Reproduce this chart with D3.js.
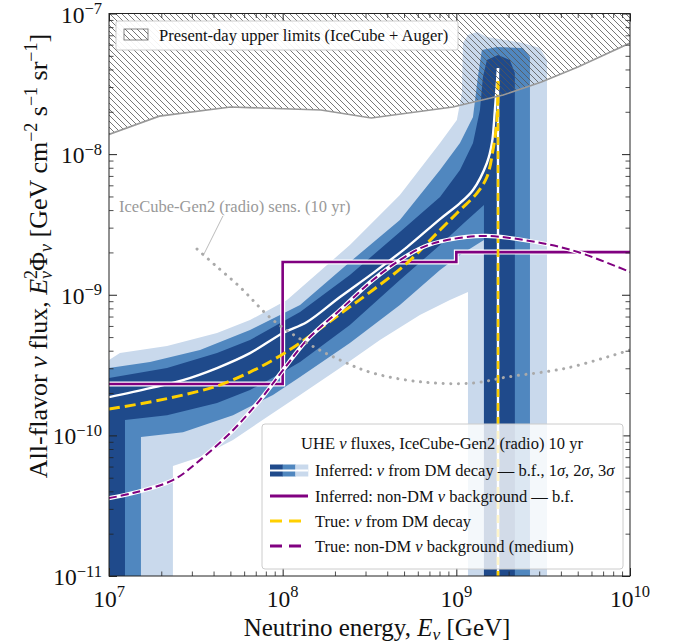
<!DOCTYPE html>
<html>
<head>
<meta charset="utf-8">
<script src="https://cdn.jsdelivr.net/npm/d3@7/dist/d3.min.js"></script>
<style>
html,body{margin:0;padding:0;background:#fff;}
svg{display:block;}
text{font-family:"Liberation Serif","Times New Roman",serif;fill:#111;}
</style>
</head>
<body>
<svg id="chart" width="677" height="643"></svg>
<script>
// ---------- data: log10(E / GeV) and log10(E^2 Phi / GeV cm^-2 s^-1 sr^-1) ----------
const energyDecades = [7, 8, 9, 10];
const fluxDecades = [-11, -10, -9, -8, -7];

// present-day upper limits (IceCube + Auger)
const limitLogE = [7.00, 7.29, 7.70, 8.22, 8.51, 8.98, 9.27, 9.49, 9.70, 10.00];
const limitLogF = [-7.86, -7.73, -7.665, -7.686, -7.743, -7.665, -7.58, -7.487, -7.381, -7.21];

// IceCube-Gen2 (radio) 10-yr sensitivity
const gen2LogE = [7.507, 7.61, 7.754, 7.944, 8.14, 8.33, 8.52, 8.808, 9.096, 9.291, 9.637, 10.0];
const gen2LogF = [-8.675, -8.789, -8.945, -9.18, -9.343, -9.464, -9.557, -9.621, -9.628, -9.585, -9.521, -9.393];
const gen2PointerLogE = [7.656, 7.541];
const gen2PointerLogF = [-8.44, -8.725];

// inferred DM-decay flux: 3 sigma band
const band3UpLogE = [7.0, 7.063, 7.334, 7.622, 7.812, 8.025, 8.387, 8.675, 8.906, 9.003, 9.032, 9.038, 9.067, 9.119, 9.176, 9.383, 9.481, 9.522];
const band3UpLogF = [-9.464, -9.415, -9.365, -9.272, -9.18, -9.038, -8.646, -8.291, -7.921, -7.757, -7.565, -7.21, -7.153, -7.132, -7.167, -7.21, -7.245, -7.331];
const band3LoLogE = [7.368, 7.524, 7.714, 7.91, 8.1, 8.33, 8.56, 8.79, 8.963, 9.067];
const band3LoLogF = [-10.218, -10.154, -10.033, -9.87, -9.713, -9.521, -9.322, -9.144, -9.038, -8.981];

// 2 sigma band
const band2UpLogE = [7.0, 7.236, 7.524, 7.812, 8.1, 8.387, 8.675, 8.906, 9.021, 9.096, 9.124, 9.147, 9.234, 9.383, 9.424];
const band2UpLogF = [-9.521, -9.479, -9.393, -9.251, -9.073, -8.767, -8.469, -8.113, -7.921, -7.736, -7.452, -7.26, -7.238, -7.245, -7.309];
const band2LoLogE = [7.184, 7.426, 7.714, 7.944, 8.1, 8.387, 8.675, 8.906, 9.021, 9.159];
const band2LoLogF = [-10.012, -9.977, -9.856, -9.713, -9.585, -9.343, -9.073, -8.824, -8.718, -8.611];

// 1 sigma band
const band1UpLogE = [7.0, 7.334, 7.622, 7.812, 8.1, 8.387, 8.675, 8.906, 9.021, 9.096, 9.136, 9.153, 9.176, 9.24, 9.308, 9.337];
const band1UpLogF = [-9.592, -9.521, -9.415, -9.322, -9.123, -8.86, -8.554, -8.305, -8.113, -7.921, -7.686, -7.452, -7.331, -7.295, -7.331, -7.423];
const band1LoLogE = [7.092, 7.334, 7.622, 7.812, 8.002, 8.1, 8.387, 8.675, 8.906, 9.05, 9.159];
const band1LoLogF = [-9.891, -9.856, -9.77, -9.678, -9.55, -9.479, -9.215, -8.895, -8.646, -8.483, -8.362];

// inferred DM-decay flux: best fit
const bestFitLogE = [7.0, 7.236, 7.426, 7.622, 7.812, 8.002, 8.14, 8.33, 8.52, 8.716, 8.906, 9.021, 9.096, 9.176, 9.205, 9.222, 9.24];
const bestFitLogF = [-9.728, -9.664, -9.607, -9.521, -9.415, -9.272, -9.194, -9.016, -8.846, -8.661, -8.462, -8.348, -8.255, -8.063, -7.921, -7.686, -7.388];

// true DM-decay flux
const trueDmLogE = [7.0, 7.236, 7.426, 7.622, 7.812, 7.944, 8.1, 8.33, 8.52, 8.716, 8.906, 9.021, 9.119, 9.176, 9.211, 9.234, 9.24];
const trueDmLogF = [-9.813, -9.763, -9.713, -9.649, -9.55, -9.464, -9.343, -9.137, -8.966, -8.775, -8.54, -8.398, -8.277, -8.163, -7.971, -7.757, -7.48];
const lineEnergyLog = 9.24;

// true non-DM background (medium)
const trueBgLogE = [7.0, 7.138, 7.368, 7.524, 7.714, 7.869, 8.002, 8.14, 8.33, 8.52, 8.675, 8.808, 8.946, 9.17, 9.487, 9.7, 10.0];
const trueBgLogF = [-10.446, -10.41, -10.318, -10.176, -9.963, -9.749, -9.536, -9.322, -9.109, -8.895, -8.753, -8.661, -8.611, -8.582, -8.632, -8.696, -8.838];

// inferred non-DM background, best fit (one value per energy decade)
const stepEdgesLogE = [7, 8, 9, 10];
const stepFlux = [2.32e-10, 1.71e-9, 2.01e-9];

// ---------- layout ----------
const svg = d3.select('#chart');
const X0 = 109, X1 = 630, Y0 = 576, Y1 = 13.5;
const x = d3.scaleLog().domain([1e7, 1e10]).range([X0, X1]);
const y = d3.scaleLog().domain([1e-11, 1e-7]).range([Y0, Y1]);
const FLOOR = -12;
const pt = (le, lf) => [x(Math.pow(10, le)), y(Math.pow(10, lf))];
const zip = (es, fs) => es.map((e, i) => [e, fs[i]]);

const C_DARK = '#1f4a8b', C_MID = '#5087bf', C_LIGHT = '#c9d9ec';
const PURPLE = '#800080', GOLD = '#ffd000', GREY = '#aaaaaa';

const defs = svg.append('defs');
defs.append('clipPath').attr('id', 'plotClip')
  .append('rect').attr('x', X0).attr('y', Y1).attr('width', X1 - X0).attr('height', Y0 - Y1);
const hatch = defs.append('pattern').attr('id', 'hatch')
  .attr('patternUnits', 'userSpaceOnUse').attr('width', 6).attr('height', 6);
hatch.append('path').attr('d', 'M0,0 L6,6 M-3,3 L3,9 M3,-3 L9,3')
  .attr('stroke', '#555').attr('stroke-width', 0.8).attr('fill', 'none');

const plot = svg.append('g').attr('clip-path', 'url(#plotClip)');

const lineLin = d3.line().x(d => pt(d[0], d[1])[0]).y(d => pt(d[0], d[1])[1]);
const lineSmooth = d3.line().x(d => pt(d[0], d[1])[0]).y(d => pt(d[0], d[1])[1]).curve(d3.curveCatmullRom.alpha(0.5));

function bandPolygon(uE, uF, lE, lF) {
  const pts = [[uE[0], FLOOR]];
  uE.forEach((e, i) => pts.push([e, uF[i]]));
  pts.push([uE[uE.length - 1], FLOOR]);
  pts.push([lE[lE.length - 1], FLOOR]);
  for (let i = lE.length - 1; i >= 0; i--) pts.push([lE[i], lF[i]]);
  pts.push([lE[0], FLOOR]);
  return pts;
}

// uncertainty bands
[[band3UpLogE, band3UpLogF, band3LoLogE, band3LoLogF, C_LIGHT],
 [band2UpLogE, band2UpLogF, band2LoLogE, band2LoLogF, C_MID],
 [band1UpLogE, band1UpLogF, band1LoLogE, band1LoLogF, C_DARK]].forEach(b => {
  plot.append('path').attr('d', lineLin(bandPolygon(b[0], b[1], b[2], b[3])) + 'Z').attr('fill', b[4]);
});

// best-fit DM flux (white), including the drop at the line energy
const bfPts = zip(bestFitLogE, bestFitLogF);
plot.append('path').attr('d', lineSmooth(bfPts)).attr('fill', 'none').attr('stroke', '#fff').attr('stroke-width', 2.4);
plot.append('path').attr('d', lineLin([[lineEnergyLog, bestFitLogF[bestFitLogF.length - 1]], [lineEnergyLog, FLOOR]]))
  .attr('fill', 'none').attr('stroke', '#fff').attr('stroke-width', 2.4);

// inferred background step (purple with white edge)
const stepPts = [];
stepFlux.forEach((f, i) => {
  const lf = Math.log10(f);
  stepPts.push([stepEdgesLogE[i], lf], [stepEdgesLogE[i + 1], lf]);
});
plot.append('path').attr('d', lineLin(stepPts)).attr('fill', 'none').attr('stroke', '#fff').attr('stroke-width', 5);
plot.append('path').attr('d', lineLin(stepPts)).attr('fill', 'none').attr('stroke', PURPLE).attr('stroke-width', 2.6);

// true DM flux (gold dashed)
const tdPts = zip(trueDmLogE, trueDmLogF);
plot.append('path').attr('d', lineSmooth(tdPts)).attr('fill', 'none').attr('stroke', GOLD)
  .attr('stroke-width', 3).attr('stroke-dasharray', '11,5');
plot.append('path').attr('d', lineLin([[lineEnergyLog, trueDmLogF[trueDmLogF.length - 1]], [lineEnergyLog, FLOOR]]))
  .attr('fill', 'none').attr('stroke', GOLD).attr('stroke-width', 2.6).attr('stroke-dasharray', '8,6');

// true background (purple dashed with white edge)
const bgPts = zip(trueBgLogE, trueBgLogF);
plot.append('path').attr('d', lineSmooth(bgPts)).attr('fill', 'none').attr('stroke', '#fff').attr('stroke-width', 4.2);
plot.append('path').attr('d', lineSmooth(bgPts)).attr('fill', 'none').attr('stroke', PURPLE)
  .attr('stroke-width', 2).attr('stroke-dasharray', '8,4');

// IceCube-Gen2 sensitivity (grey dots)
plot.append('path').attr('d', lineSmooth(zip(gen2LogE, gen2LogF))).attr('fill', 'none').attr('stroke', GREY)
  .attr('stroke-width', 3).attr('stroke-linecap', 'round').attr('stroke-dasharray', '0.1,7.5');

// present-day limits (hatched)
const limPts = zip(limitLogE, limitLogF);
const hatchArea = d3.area().x(d => pt(d[0], d[1])[0]).y0(Y1 - 2).y1(d => pt(d[0], d[1])[1]);
plot.append('path').attr('d', hatchArea(limPts)).attr('fill', 'url(#hatch)');
plot.append('path').attr('d', lineLin(limPts)).attr('fill', 'none').attr('stroke', '#999').attr('stroke-width', 1.6);

// annotation for the sensitivity curve
svg.append('path').attr('d', lineLin(zip(gen2PointerLogE, gen2PointerLogF))).attr('stroke', '#aaa').attr('stroke-width', 0.8).attr('fill', 'none');
svg.append('text').attr('x', 119).attr('y', 212).attr('font-size', 16.5).style('fill', '#999')
  .text('IceCube-Gen2 (radio) sens. (10 yr)');

// ---------- axes ----------
const majorE = energyDecades.map(d => Math.pow(10, d));
const minorE = [];
for (let d = 7; d < 10; d++) for (let k = 2; k < 10; k++) minorE.push(k * Math.pow(10, d));
const majorF = fluxDecades.map(d => Math.pow(10, d));
const minorF = [];
for (let d = -11; d < -7; d++) for (let k = 2; k < 10; k++) minorF.push(k * Math.pow(10, d));

function ticks(gen, tr, vals, size) {
  svg.append('g').attr('transform', tr)
    .call(gen.tickValues(vals).tickSize(size).tickFormat(() => ''))
    .call(g => g.select('.domain').remove())
    .call(g => g.selectAll('line').attr('stroke', '#222').attr('stroke-width', size < -5 ? 1 : 0.8));
}
ticks(d3.axisBottom(x), `translate(0,${Y0})`, majorE, -8);
ticks(d3.axisBottom(x), `translate(0,${Y0})`, minorE, -4.5);
ticks(d3.axisTop(x), `translate(0,${Y1})`, majorE, -8);
ticks(d3.axisTop(x), `translate(0,${Y1})`, minorE, -4.5);
ticks(d3.axisLeft(y), `translate(${X0},0)`, majorF, -8);
ticks(d3.axisLeft(y), `translate(${X0},0)`, minorF, -4.5);
ticks(d3.axisRight(y), `translate(${X1},0)`, majorF, -8);
ticks(d3.axisRight(y), `translate(${X1},0)`, minorF, -4.5);

svg.append('rect').attr('x', X0).attr('y', Y1).attr('width', X1 - X0).attr('height', Y0 - Y1)
  .attr('fill', 'none').attr('stroke', '#222').attr('stroke-width', 1);

energyDecades.forEach(d => {
  const t = svg.append('text').attr('x', x(Math.pow(10, d))).attr('y', 607).attr('text-anchor', 'middle').attr('font-size', 23.5);
  t.append('tspan').text('10');
  t.append('tspan').attr('dy', -10).attr('font-size', 16.5).text(d);
});
fluxDecades.forEach(d => {
  const t = svg.append('text').attr('x', 102).attr('y', y(Math.pow(10, d)) + 9).attr('text-anchor', 'end').attr('font-size', 23.5);
  t.append('tspan').text('10');
  t.append('tspan').attr('dy', -8.5).attr('font-size', 16.5).text('\u2212' + (-d));
});

// rich text helper
function rich(t, parts) {
  parts.forEach(p => {
    const s = t.append('tspan').text(p.t);
    if (p.i) s.attr('font-style', 'italic');
    if (p.dy) s.attr('dy', p.dy);
    if (p.dx) s.attr('dx', p.dx);
    if (p.fs) s.attr('font-size', p.fs);
  });
  return t;
}

// x label
rich(svg.append('text').attr('x', 377).attr('y', 636).attr('text-anchor', 'middle').attr('font-size', 25), [
  {t: 'Neutrino energy, '}, {t: 'E', i: 1}, {t: '\u03bd', i: 1, fs: 17.5, dy: 4}, {t: ' [GeV]', dy: -4}
]);

// y label
rich(svg.append('text').attr('transform', 'translate(47,256) rotate(-90)').attr('text-anchor', 'middle').attr('font-size', 26), [
  {t: 'All-flavor '}, {t: '\u03bd', i: 1}, {t: ' flux, '}, {t: 'E', i: 1},
  {t: '2', fs: 18, dy: -10}, {t: '\u03bd', i: 1, fs: 18, dx: -9, dy: 15},
  {t: '\u03a6', dy: -5}, {t: '\u03bd', i: 1, fs: 18, dy: 5},
  {t: ' [GeV cm', dy: -5}, {t: '\u22122', fs: 18, dy: -10}, {t: ' s', dy: 10},
  {t: '\u22121', fs: 18, dy: -10}, {t: ' sr', dy: 10}, {t: '\u22121', fs: 18, dy: -10}, {t: ']', dy: 10}
]);

// ---------- legend: upper limits ----------
const lg1 = svg.append('g');
lg1.append('rect').attr('x', 116).attr('y', 21).attr('width', 342).attr('height', 29).attr('rx', 2)
  .attr('fill', '#fff').attr('fill-opacity', 0.92).attr('stroke', '#ccc');
lg1.append('rect').attr('x', 124).attr('y', 29).attr('width', 24).attr('height', 11)
  .attr('fill', 'url(#hatch)').attr('stroke', '#666').attr('stroke-width', 0.8);
lg1.append('text').attr('x', 159).attr('y', 41).attr('font-size', 16.5).text('Present-day upper limits (IceCube + Auger)');

// ---------- legend: fluxes ----------
const lg2 = svg.append('g');
lg2.append('rect').attr('x', 262).attr('y', 424).attr('width', 361).attr('height', 145).attr('rx', 3)
  .attr('fill', '#fff').attr('fill-opacity', 0.8).attr('stroke', '#ccc');
rich(lg2.append('text').attr('x', 442).attr('y', 449).attr('text-anchor', 'middle').attr('font-size', 16.5), [
  {t: 'UHE '}, {t: '\u03bd', i: 1}, {t: ' fluxes, IceCube-Gen2 (radio) 10 yr'}
]);
const hx = 270, hw = 38, tx = 315;
const rowY = [470.5, 496, 521, 546];
// band handle
[C_DARK, C_MID, C_LIGHT].forEach((c, i) => {
  lg2.append('rect').attr('x', hx + i * hw / 3).attr('y', rowY[0] - 6).attr('width', hw / 3 + 0.3).attr('height', 12).attr('fill', c);
});
lg2.append('line').attr('x1', hx).attr('x2', hx + hw).attr('y1', rowY[0]).attr('y2', rowY[0]).attr('stroke', '#fff').attr('stroke-width', 2.2);
lg2.append('line').attr('x1', hx).attr('x2', hx + hw).attr('y1', rowY[1]).attr('y2', rowY[1]).attr('stroke', PURPLE).attr('stroke-width', 3);
lg2.append('line').attr('x1', hx).attr('x2', hx + hw).attr('y1', rowY[2]).attr('y2', rowY[2]).attr('stroke', GOLD).attr('stroke-width', 3).attr('stroke-dasharray', '12,7');
lg2.append('line').attr('x1', hx).attr('x2', hx + hw).attr('y1', rowY[3]).attr('y2', rowY[3]).attr('stroke', PURPLE).attr('stroke-width', 3).attr('stroke-dasharray', '12,7');
const rows = [
  [{t: 'Inferred: '}, {t: '\u03bd', i: 1}, {t: ' from DM decay \u2014 b.f., 1'}, {t: '\u03c3', i: 1}, {t: ', 2'}, {t: '\u03c3', i: 1}, {t: ', 3'}, {t: '\u03c3', i: 1}],
  [{t: 'Inferred: non-DM '}, {t: '\u03bd', i: 1}, {t: ' background \u2014 b.f.'}],
  [{t: 'True: '}, {t: '\u03bd', i: 1}, {t: ' from DM decay'}],
  [{t: 'True: non-DM '}, {t: '\u03bd', i: 1}, {t: ' background (medium)'}]
];
rows.forEach((r, i) => rich(lg2.append('text').attr('x', tx).attr('y', rowY[i] + 5.5).attr('font-size', 16.5), r));
</script>
</body>
</html>
